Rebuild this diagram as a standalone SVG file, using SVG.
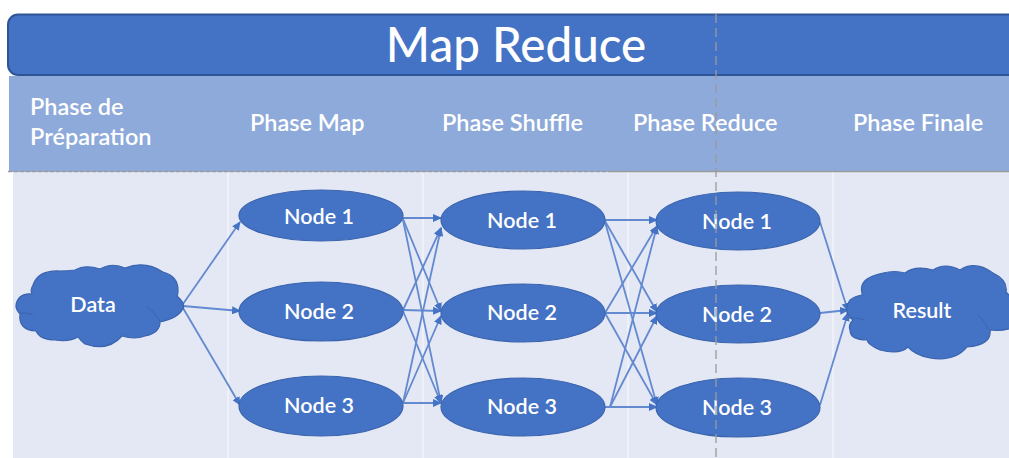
<svg xmlns="http://www.w3.org/2000/svg" width="1009" height="458" viewBox="0 0 1009 458">
<style>
text{font-family:"Lato","Open Sans","Liberation Sans",sans-serif;fill:#fff;font-weight:600}
.ph{font-size:23.500px}
.n{font-size:21.500px;text-anchor:middle}
.sh{fill:#4472c4;stroke:#3a64ae;stroke-width:1.200}
.c{stroke:#6389d0;stroke-width:1.800;fill:none;marker-end:url(#a)}
.sep{stroke:#f1f3f9;stroke-width:1.500}
.inner{fill:none;stroke:#3a64ae;stroke-width:1}
</style>
<defs>
<marker id="a" markerUnits="userSpaceOnUse" markerWidth="9" markerHeight="8" refX="8" refY="4" orient="auto"><path d="M0 0L9 4L0 8Z" fill="#4472c4"/></marker>
</defs>
<rect width="1009" height="458" fill="#fff"/>
<rect x="13" y="172" width="996" height="286" fill="#e4e8f4"/>
<rect x="9" y="76" width="1000" height="96" fill="#8eaadb"/>
<g id="sep">
<path class="sep" d="M228 172V458M423 172V458M628 172V458M833 172V458"/>
</g>
<g id="title">
<rect x="8" y="14.500" width="1020" height="60.500" rx="10" fill="#4472c4" stroke="#2f5597" stroke-width="2"/>
<text x="516" y="62" font-size="47.500" text-anchor="middle" style="font-weight:500">Map Reduce</text>
</g>
<g id="phases">
<text class="ph" x="30" y="115">Phase de</text>
<text class="ph" x="30" y="145">Préparation</text>
<text class="ph" x="250" y="131">Phase Map</text>
<text class="ph" x="442" y="131">Phase Shuffle</text>
<text class="ph" x="633" y="131">Phase Reduce</text>
<text class="ph" x="853" y="131">Phase Finale</text>
</g>
<g id="connectors">
<path class="c" d="M183 304L240 222"/>
<path class="c" d="M183 306L240 311"/>
<path class="c" d="M183 308L240 405"/>
<path class="c" d="M403 218L441 218"/>
<path class="c" d="M403 219L441 311"/>
<path class="c" d="M403 220L441 403"/>
<path class="c" d="M403 310L441 228"/>
<path class="c" d="M403 310L441 311"/>
<path class="c" d="M403 311L441 403"/>
<path class="c" d="M403 403L441 228"/>
<path class="c" d="M403 403L441 316"/>
<path class="c" d="M403 403L441 403"/>
<path class="c" d="M605 220L657 220"/>
<path class="c" d="M605 221L657 312"/>
<path class="c" d="M605 222L657 405"/>
<path class="c" d="M605 313L657 226"/>
<path class="c" d="M605 313L657 313"/>
<path class="c" d="M605 313L657 405"/>
<path class="c" d="M610 407L657 226"/>
<path class="c" d="M610 407L657 316"/>
<path class="c" d="M604 407L657 407"/>
<path class="c" d="M820 222L848 311"/>
<path class="c" d="M820 313L848 310"/>
<path class="c" d="M820 405L848 313"/>
</g>
<g id="data">
<path class="sh" d="M33 285Q38 270 60 271Q68 271 75 270Q85 264 100 269Q112 262 125 268Q145 260 163 272Q178 276 178 290Q178 296 177 296Q187 305 182 310Q178 318 160 322Q160 333 145 336Q135 340 122 336Q108 352 85 344Q80 340 78 337Q70 342 55 340Q40 340 36 331Q18 330 20 314Q12 306 20 297Q25 293 32 294Q30 290 33 285Z"/>
<path class="inner" d="M147 307Q155 312 160 321M20 313Q27 312 33 315"/>
<text class="n" x="93" y="312">Data</text>
</g>
<g id="map1"><ellipse class="sh" cx="321" cy="215.500" rx="82" ry="25.500"/><text class="n" x="319" y="224">Node 1</text></g>
<g id="map2"><ellipse class="sh" cx="321" cy="311.500" rx="82" ry="29.500"/><text class="n" x="319" y="319">Node 2</text></g>
<g id="map3"><ellipse class="sh" cx="321" cy="406" rx="82" ry="30"/><text class="n" x="319" y="413">Node 3</text></g>
<g id="shuffle1"><ellipse class="sh" cx="523" cy="220" rx="82" ry="29"/><text class="n" x="522" y="228">Node 1</text></g>
<g id="shuffle2"><ellipse class="sh" cx="523" cy="313" rx="82" ry="29"/><text class="n" x="522" y="320">Node 2</text></g>
<g id="shuffle3"><ellipse class="sh" cx="523" cy="407" rx="82" ry="29"/><text class="n" x="522" y="414">Node 3</text></g>
<g id="reduce1"><ellipse class="sh" cx="738" cy="221" rx="82" ry="29"/><text class="n" x="737" y="229">Node 1</text></g>
<g id="reduce2"><ellipse class="sh" cx="738" cy="314" rx="82" ry="29"/><text class="n" x="737" y="322">Node 2</text></g>
<g id="reduce3"><ellipse class="sh" cx="738" cy="407.500" rx="82" ry="29.500"/><text class="n" x="737" y="415">Node 3</text></g>
<g id="result">
<path class="sh" d="M862 293Q858 278 883 273Q895 270 905 273Q915 265 933 270Q945 262 960 270Q975 260 993 273Q1008 280 1006 292Q1020 305 1020 325Q1005 332 990 330Q992 345 967 347Q955 362 930 358Q915 355 908 347Q900 355 880 350Q868 345 867 340Q850 340 850 330Q848 325 853 320Q842 312 850 300Q855 296 862 295Z"/>
<path class="inner" d="M978 315Q985 320 988 329M848 318Q857 317 865 320"/>
<text class="n" x="922" y="318">Result</text>
</g>
<g id="guides" fill="none" stroke="#9a9a9a">
<path stroke-width="1.500" stroke-dasharray="4 2" d="M8 171.500H612"/>
<path stroke-width="1.500" d="M612 171.500H1009"/>
<path stroke-width="1.300" stroke-dasharray="9 5" d="M716 14V458"/>
</g>
</svg>
